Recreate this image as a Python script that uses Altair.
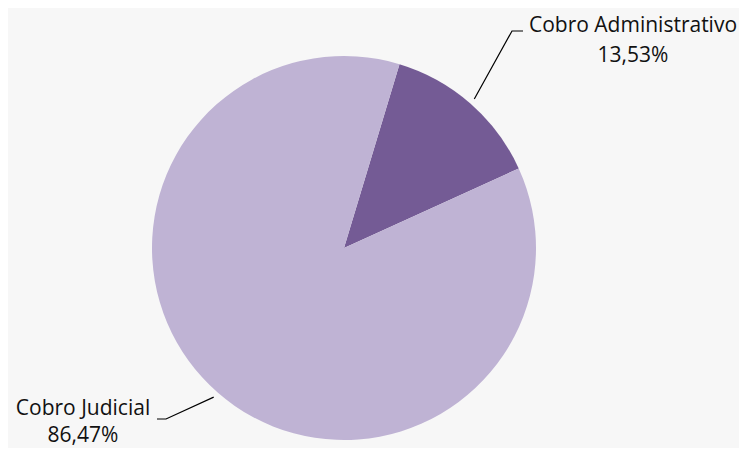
import math
import altair as alt
import pandas as pd

categories = ["Cobro Administrativo", "Cobro Judicial"]
values = [13.53, 86.47]
labels = ["13,53%", "86,47%"]
colors = ["#745b95", "#bfb3d4"]

W, H = 731, 440
CX, CY, R = 336, 240, 192
START = math.radians(16.8)

pie_df = pd.DataFrame({"cat": categories, "val": values, "idx": list(range(len(values)))})

# leader lines computed from slice mid-angles
total = sum(values)
mids = []
acc = 0.0
for v in values:
    mids.append(START + 2 * math.pi * (acc + v / 2) / total)
    acc += v
elbows = [(504, 23), (158, 411)]
ends = [(515, 23), (149, 411)]
rows = []
for i, (m, e, t) in enumerate(zip(mids, elbows, ends)):
    sx = CX + 198 * math.sin(m)
    sy = CY - 198 * math.cos(m)
    for k, (px, py) in enumerate([(sx, sy), e, t]):
        rows.append({"g": i, "k": k, "px": px, "py": py})
line_df = pd.DataFrame(rows)

text_pos = [(625, 24, 54), (75, 407, 434)]
text_rows = []
for i, (tx, y1, y2) in enumerate(text_pos):
    text_rows.append({"t": categories[i], "px": tx, "py": y1})
    text_rows.append({"t": labels[i], "px": tx, "py": y2})
text_df = pd.DataFrame(text_rows)

xs = alt.Scale(domain=[0, W], range=[0, W])
ys = alt.Scale(domain=[0, H], range=[0, H])

pie = alt.Chart(pie_df).mark_arc(radius=R, stroke=None).encode(
    theta=alt.Theta("val:Q", stack=True, scale=alt.Scale(range=[START, START + 2 * math.pi])),
    order=alt.Order("idx:Q"),
    color=alt.Color("cat:N", scale=alt.Scale(domain=categories, range=colors), legend=None),
    x=alt.value(CX),
    y=alt.value(CY),
)

lines = alt.Chart(line_df).mark_line(color="black", strokeWidth=1.2).encode(
    x=alt.X("px:Q", scale=xs, axis=None),
    y=alt.Y("py:Q", scale=ys, axis=None),
    detail="g:N",
    order="k:Q",
)

texts = alt.Chart(text_df).mark_text(
    font="Open Sans", fontSize=21, color="#111111", align="center", baseline="alphabetic"
).encode(
    x=alt.X("px:Q", scale=xs, axis=None),
    y=alt.Y("py:Q", scale=ys, axis=None),
    text="t:N",
)

chart = alt.layer(pie, lines, texts).properties(
    width=W, height=H, padding=0, background="#f7f7f7", autosize="none"
).configure_view(stroke=None)

chart.save("out.html", embed_options={"renderer": "svg", "actions": False})
